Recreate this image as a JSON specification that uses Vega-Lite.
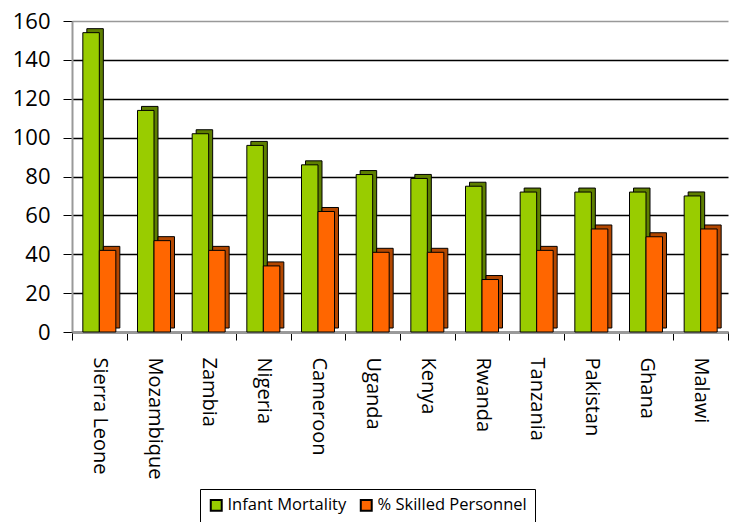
{
  "$schema": "https://vega.github.io/schema/vega-lite/v6.json",
  "width": 656,
  "height": 311,
  "autosize": {"type": "none"},
  "padding": {"left": 72, "top": 21, "right": 2, "bottom": 190},
  "background": "white",
  "config": {
    "view": {"stroke": null},
    "font": "Open Sans"
  },
  "data": {
    "values": [
      {"country": "Sierra Leone", "series": "Infant Mortality", "value": 154},
      {"country": "Sierra Leone", "series": "% Skilled Personnel", "value": 42},
      {"country": "Mozambique", "series": "Infant Mortality", "value": 114},
      {"country": "Mozambique", "series": "% Skilled Personnel", "value": 47},
      {"country": "Zambia", "series": "Infant Mortality", "value": 102},
      {"country": "Zambia", "series": "% Skilled Personnel", "value": 42},
      {"country": "Nigeria", "series": "Infant Mortality", "value": 96},
      {"country": "Nigeria", "series": "% Skilled Personnel", "value": 34},
      {"country": "Cameroon", "series": "Infant Mortality", "value": 86},
      {"country": "Cameroon", "series": "% Skilled Personnel", "value": 62},
      {"country": "Uganda", "series": "Infant Mortality", "value": 81},
      {"country": "Uganda", "series": "% Skilled Personnel", "value": 41},
      {"country": "Kenya", "series": "Infant Mortality", "value": 79},
      {"country": "Kenya", "series": "% Skilled Personnel", "value": 41},
      {"country": "Rwanda", "series": "Infant Mortality", "value": 75},
      {"country": "Rwanda", "series": "% Skilled Personnel", "value": 27},
      {"country": "Tanzania", "series": "Infant Mortality", "value": 72},
      {"country": "Tanzania", "series": "% Skilled Personnel", "value": 42},
      {"country": "Pakistan", "series": "Infant Mortality", "value": 72},
      {"country": "Pakistan", "series": "% Skilled Personnel", "value": 53},
      {"country": "Ghana", "series": "Infant Mortality", "value": 72},
      {"country": "Ghana", "series": "% Skilled Personnel", "value": 49},
      {"country": "Malawi", "series": "Infant Mortality", "value": 70},
      {"country": "Malawi", "series": "% Skilled Personnel", "value": 53}
    ]
  },
  "encoding": {
    "x": {
      "field": "country",
      "type": "nominal",
      "sort": null,
      "scale": {"paddingInner": 0, "paddingOuter": 0},
      "axis": {
        "title": null,
        "labelAngle": 90,
        "labelAlign": "left",
        "labelBaseline": "middle",
        "labelFontSize": 20,
        "labelColor": "black",
        "labelPadding": 17,
        "tickBand": "extent",
        "tickColor": "black",
        "tickSize": 8,
        "domainColor": "#999999",
        "domainWidth": 3
      }
    },
    "y": {
      "field": "value",
      "type": "quantitative",
      "scale": {"domain": [0, 160]},
      "axis": {
        "title": null,
        "values": [0, 20, 40, 60, 80, 100, 120, 140, 160],
        "labelFontSize": 22,
        "labelColor": "black",
        "labelPadding": 13,
        "tickColor": "black",
        "tickSize": 9,
        "domainColor": "#999999",
        "domainWidth": 2,
        "gridColor": {"condition": {"test": "datum.value === 160", "value": "#999999"}, "value": "black"},
        "gridWidth": 1.5
      }
    }
  },
  "layer": [
    {
      "transform": [{"filter": "datum.series === 'Infant Mortality'"}],
      "mark": {"type": "bar", "fill": "#5E7F00", "stroke": "black", "strokeWidth": 1, "width": 16.5, "xOffset": -4.25, "yOffset": -4}
    },
    {
      "transform": [{"filter": "datum.series === 'Infant Mortality'"}],
      "mark": {"type": "bar", "stroke": "black", "strokeWidth": 1, "width": 16.5, "xOffset": -8.25},
      "encoding": {
        "color": {
          "field": "series",
          "type": "nominal",
          "scale": {
            "domain": ["Infant Mortality", "% Skilled Personnel"],
            "range": ["#99CC00", "#FF6600"]
          },
          "legend": {
            "title": null,
            "orient": "none",
            "direction": "horizontal",
            "legendX": 128,
            "legendY": 468,
            "strokeColor": "black",
            "padding": 8,
            "symbolType": "square",
            "symbolSize": 120,
            "symbolStrokeColor": "black",
            "symbolStrokeWidth": 2,
            "labelFontSize": 16.5,
            "labelColor": "black",
            "labelOffset": 3,
            "columnPadding": 9
          }
        }
      }
    },
    {
      "transform": [{"filter": "datum.series === '% Skilled Personnel'"}],
      "mark": {"type": "bar", "fill": "#B34700", "stroke": "black", "strokeWidth": 1, "width": 16.5, "xOffset": 12.25, "yOffset": -4}
    },
    {
      "transform": [{"filter": "datum.series === '% Skilled Personnel'"}],
      "mark": {"type": "bar", "stroke": "black", "strokeWidth": 1, "width": 16.5, "xOffset": 8.25},
      "encoding": {
        "color": {
          "field": "series",
          "type": "nominal",
          "scale": {
            "domain": ["Infant Mortality", "% Skilled Personnel"],
            "range": ["#99CC00", "#FF6600"]
          }
        }
      }
    }
  ]
}
